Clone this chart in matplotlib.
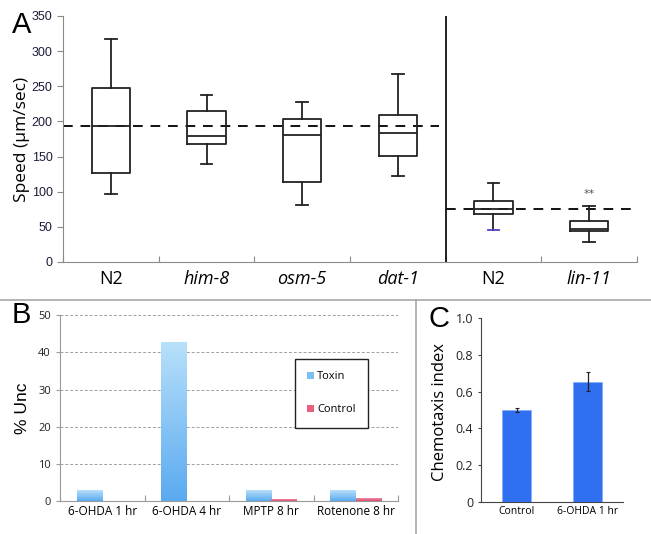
import matplotlib
matplotlib.use("Agg")
import matplotlib.pyplot as plt
import numpy as np
from matplotlib.lines import Line2D
from matplotlib.patches import Patch

# ---- Panel A data ----
a_labels = ["N2", "him-8", "osm-5", "dat-1", "N2", "lin-11"]
a_italic = [False, True, True, True, False, True]
a_whislo = [97, 139, 81, 122, 45, 28]
a_q1 = [127, 168, 114, 151, 69, 44]
a_med = [193, 179, 181, 184, 76, 47]
a_q3 = [248, 215, 203, 209, 87, 58]
a_whishi = [317, 238, 227, 268, 113, 79]
a_ref_left = 193.5
a_ref_right = 76
a_star_y = 97

# ---- Panel B data ----
b_cats = ["6-OHDA 1 hr", "6-OHDA 4 hr", "MPTP 8 hr", "Rotenone 8 hr"]
b_toxin = [2.7, 42.6, 2.7, 2.7]
b_control = [0.0, 0.0, 0.5, 0.6]

# ---- Panel C data ----
c_cats = ["Control", "6-OHDA 1 hr"]
c_vals = [0.50, 0.655]
c_err = [0.012, 0.053]

W, H = 651, 534
fig = plt.figure(figsize=(W / 100, H / 100), dpi=100)

def ax_rect(l, r, top, bot):
    return [l / W, 1 - bot / H, (r - l) / W, (bot - top) / H]

tick_col = "#1c1c3a"
spine_col = "#8a8a8a"

# ================= Panel A =================
axA = fig.add_axes(ax_rect(63, 637, 16, 262))
stats = []
for i in range(len(a_labels)):
    stats.append(dict(med=a_med[i], q1=a_q1[i], q3=a_q3[i],
                      whislo=a_whislo[i], whishi=a_whishi[i], fliers=[]))
pos = np.arange(1, len(a_labels) + 1)
lw = 1.3
res = axA.bxp(stats, positions=pos, widths=0.40, showfliers=False,
              boxprops=dict(color="#222222", linewidth=lw),
              medianprops=dict(color="#222222", linewidth=lw),
              whiskerprops=dict(color="#222222", linewidth=lw),
              capprops=dict(color="#222222", linewidth=lw),
              capwidths=0.12, zorder=3)
res["caps"][8].set_color("#5a3cc0")
axA.set_xlim(0.5, 6.5)
axA.set_ylim(0, 350)
axA.hlines(a_ref_left, 0.5, 4.43, colors="#111111", linestyles=(0, (5, 4)), linewidth=1.4, zorder=2)
axA.hlines(a_ref_right, 4.5, 6.5, colors="#111111", linestyles=(0, (5, 4)), linewidth=1.4, zorder=2)
axA.axvline(4.5, color="#111111", linewidth=1.3)
axA.text(6, a_star_y, "**", ha="center", va="center", fontsize=8, color="#555555")
for s in ["top", "right"]:
    axA.spines[s].set_visible(False)
for s in ["left", "bottom"]:
    axA.spines[s].set_color(spine_col)
axA.set_yticks(np.arange(0, 351, 50))
axA.tick_params(axis="y", colors=spine_col, labelcolor=tick_col, labelsize=9, length=4, direction="out")
for t in axA.get_yticklabels():
    t.set_family("Liberation Sans")
axA.set_xticks(np.arange(0.5, 6.6, 1.0))
axA.set_xticklabels([])
axA.tick_params(axis="x", colors=spine_col, length=4, direction="in")
for i, lab in enumerate(a_labels):
    axA.text(pos[i], -12, lab, ha="center", va="top", fontsize=13,
             style="italic" if a_italic[i] else "normal", family="Open Sans",
             transform=axA.transData, clip_on=False)
axA.set_ylabel("Speed (\u03bcm/sec)", fontsize=12.5, family="Open Sans", labelpad=1)
fig.text(12 / W, 1 - 33 / H, "A", fontsize=21, family="Liberation Sans", ha="left", va="baseline")

# ================= Panel B =================
axB = fig.add_axes(ax_rect(60, 398, 315.3, 501))
xb = np.arange(len(b_cats))
bw = 0.30
bars_t = axB.bar(xb - bw / 2, b_toxin, bw, color="#7cc0f2", zorder=3, label="Toxin")
bars_c = axB.bar(xb + bw / 2, b_control, bw, color="#e8607c", zorder=3, label="Control")

def gradient_fill(ax, bars, top_col, bot_col):
    from matplotlib.colors import LinearSegmentedColormap
    cmap = LinearSegmentedColormap.from_list("g", [bot_col, top_col])
    grad = np.linspace(0, 1, 256).reshape(-1, 1)
    for b in bars:
        x0, y0 = b.get_x(), b.get_y()
        w, h = b.get_width(), b.get_height()
        if h <= 0:
            continue
        b.set_facecolor("none")
        b.set_edgecolor("none")
        ax.imshow(grad, cmap=cmap, aspect="auto", origin="lower",
                  extent=[x0, x0 + w, y0, y0 + h], zorder=3)

gradient_fill(axB, bars_t, "#b8e0fa", "#5aaaf0")
gradient_fill(axB, bars_c, "#f090a8", "#d84868")
axB.set_xlim(-0.5, len(b_cats) - 0.5)
axB.set_ylim(0, 50)
axB.set_yticks(np.arange(0, 51, 10))
axB.yaxis.grid(True, color="#a0a0a0", linestyle=(0, (3, 2)), linewidth=0.7)
axB.set_axisbelow(True)
for s in ["top", "right"]:
    axB.spines[s].set_visible(False)
for s in ["left", "bottom"]:
    axB.spines[s].set_color("#9a9a9a")
axB.set_xticks(np.arange(-0.5, len(b_cats), 1.0), minor=False)
axB.set_xticklabels([])
axB.set_xticks(xb, minor=True)
axB.set_xticklabels(b_cats, minor=True, fontsize=8.5, family="Open Sans")
axB.tick_params(axis="x", which="minor", length=0, pad=3)
axB.tick_params(axis="x", which="major", length=4, direction="in", colors="#9a9a9a")
axB.tick_params(axis="y", labelsize=8, length=3, colors="#9a9a9a", labelcolor="#222222")
for t in axB.get_yticklabels():
    t.set_family("Open Sans")
axB.set_ylabel("% Unc", fontsize=12.5, family="Liberation Sans", labelpad=6)
handles = [Patch(facecolor="#7cc0f2", edgecolor="none"), Patch(facecolor="#e8607c", edgecolor="none")]
leg = axB.legend(handles, ["Toxin", "Control"], loc="upper left",
                 bbox_to_anchor=((295 - 60) / 338, (501 - 359) / 185.7),
                 frameon=True, fancybox=False, edgecolor="#222222", framealpha=1,
                 prop=dict(family="Open Sans", size=8), handlelength=0.6, handleheight=0.6,
                 handletextpad=0.3, labelspacing=2.0, borderpad=1.1, borderaxespad=0)
leg.get_frame().set_linewidth(1.0)
fig.text(12 / W, 1 - 323 / H, "B", fontsize=21, family="Liberation Sans", ha="left", va="baseline")

# ================= Panel C =================
axC = fig.add_axes(ax_rect(481, 623, 318.3, 501.7))
xc = np.arange(len(c_cats))
axC.bar(xc, c_vals, 0.40, color="#2f6ff0", edgecolor="#7fb0f8", linewidth=0.5, zorder=3)
axC.errorbar(xc, c_vals, yerr=c_err, fmt="none", ecolor="#222222", elinewidth=0.9,
             capsize=1.5, capthick=0.8, zorder=4)
axC.set_xlim(-0.5, len(c_cats) - 0.5)
axC.set_ylim(0, 1.0)
axC.set_yticks([0, 0.2, 0.4, 0.6, 0.8, 1.0])
axC.set_yticklabels(["0", "0.2", "0.4", "0.6", "0.8", "1.0"], fontsize=9, family="Open Sans")
axC.set_xticks(xc)
axC.set_xticklabels(c_cats, fontsize=7.5, family="Open Sans")
axC.tick_params(axis="x", length=0, pad=3)
axC.tick_params(axis="y", length=2, colors="#444444", labelcolor="#222222")
for s in ["top", "right"]:
    axC.spines[s].set_visible(False)
for s in ["left", "bottom"]:
    axC.spines[s].set_color("#444444")
axC.set_ylabel("Chemotaxis index", fontsize=12, family="Open Sans", labelpad=3)
axC.yaxis.set_label_coords(-0.23, 0.49)
fig.text(428 / W, 1 - 327 / H, "C", fontsize=21, family="Liberation Sans", ha="left", va="baseline")

# ---- panel separators ----
fig.add_artist(Line2D([0, 1], [1 - 300 / H, 1 - 300 / H], transform=fig.transFigure,
                      color="#a8a8a8", linewidth=1.2))
fig.add_artist(Line2D([415.5 / W, 415.5 / W], [0, 1 - 300 / H], transform=fig.transFigure,
                      color="#a8a8a8", linewidth=1.2))

fig.savefig("out.png", dpi=100)
